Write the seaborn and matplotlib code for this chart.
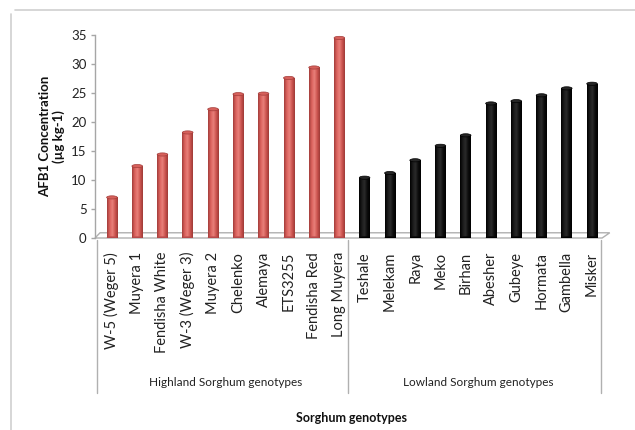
import matplotlib
matplotlib.use("Agg")
import matplotlib.pyplot as plt
import matplotlib.transforms as mtransforms
from matplotlib.colors import LinearSegmentedColormap
from matplotlib.patches import Ellipse, Polygon
from matplotlib.lines import Line2D
import numpy as np
import pandas as pd
import seaborn as sns

# data
highland = ["W-5 (Weger 5)", "Muyera 1", "Fendisha White", "W-3 (Weger 3)", "Muyera 2",
            "Chelenko", "Alemaya", "ETS3255", "Fendisha Red", "Long Muyera"]
highland_afb1 = [7.0, 12.4, 14.4, 18.2, 22.2, 24.8, 24.9, 27.6, 29.4, 34.5]
lowland = ["Teshale", "Melekam", "Raya", "Meko", "Birhan",
           "Abesher", "Gubeye", "Hormata", "Gambella", "Misker"]
lowland_afb1 = [10.4, 11.2, 13.4, 15.9, 17.7, 23.2, 23.6, 24.6, 25.8, 26.6]
groups = ["Highland Sorghum genotypes", "Lowland Sorghum genotypes"]
y_ticks = [0, 5, 10, 15, 20, 25, 30, 35]

df = pd.DataFrame({
    "genotype": highland + lowland,
    "afb1": highland_afb1 + lowland_afb1,
    "group": [groups[0]] * len(highland) + [groups[1]] * len(lowland),
})

sns.set_theme(style="white")
plt.rcParams["font.family"] = ["Lato", "DejaVu Sans"]

W, H = 635, 430
fig = plt.figure(figsize=(W / 100, H / 100), dpi=100)
ax = fig.add_axes([95 / W, 1 - 238 / H, (612 - 95) / W, (238 - 35) / H])

sns.barplot(data=df, x="genotype", y="afb1", hue="group", dodge=False,
            palette=["#c0504d", "#000000"], width=0.42, saturation=1,
            legend=False, ax=ax)

n = len(df)
xlim = (-0.67, n - 1 + 0.79)
ylim = (0, 35)

# cylinder look: gradient fill clipped to each bar and an elliptic cap
red_cmap = LinearSegmentedColormap.from_list("red", ["#a23d3a", "#db625d", "#e8807a", "#cc544f", "#9e3a37"])
blk_cmap = LinearSegmentedColormap.from_list("blk", ["#000000", "#1a1a1a", "#2a2a2a", "#0d0d0d", "#000000"])
grad = np.linspace(0, 1, 64).reshape(1, -1)
for i, p in enumerate(ax.patches):
    x0, w, h = p.get_x(), p.get_width(), p.get_height()
    is_red = df["group"].iloc[i] == groups[0]
    im = ax.imshow(grad, extent=[x0, x0 + w, 0, h], aspect="auto",
                   cmap=red_cmap if is_red else blk_cmap, zorder=2)
    im.set_clip_path(p)
    p.set_edgecolor("none")
    cap = Ellipse((x0 + w / 2, h), w, 0.55, facecolor="#d6605b" if is_red else "#262626",
                  edgecolor="#a33d3a" if is_red else "#000000", lw=0.5, zorder=3)
    ax.add_patch(cap)
    base = Ellipse((x0 + w / 2, 0), w, 0.55, facecolor="#b8494a" if is_red else "#000000",
                   edgecolor="none", zorder=2)
    ax.add_patch(base)

ax.set_xlim(*xlim)
ax.set_ylim(*ylim)

# 3D-style floor
fx0, fx1 = xlim[0], n - 1 + 0.4
floor = Polygon([(fx0, 0), (fx1, 0), (fx1 + 0.3, 0.9), (fx0 + 0.2, 0.9)], closed=True,
                facecolor="none", edgecolor="#b0b0b0", lw=1, zorder=1, clip_on=False)
ax.add_patch(floor)

for s in ["top", "right", "bottom"]:
    ax.spines[s].set_visible(False)
ax.spines["left"].set_color("#a6a6a6")
ax.spines["left"].set_linewidth(1)
ax.set_yticks(y_ticks)
ax.tick_params(axis="y", left=True, length=3, width=1, color="#a6a6a6",
               labelsize=9.5, labelcolor="#222222", pad=3)
ax.tick_params(axis="x", length=0, pad=10, labelsize=10.5, labelcolor="#222222")
for lab in ax.get_xticklabels():
    lab.set_rotation(90)
    lab.set_va("top")
    lab.set_ha("center")
ax.set_xlabel("")
ax.set_ylabel("AFB1 Concentration\n(µg kg-1)", fontsize=9.5, fontweight="bold",
              color="#111111", linespacing=1.1)
ax.yaxis.set_label_coords(-0.058, 0.5)

# group axis below the categories
trans = mtransforms.blended_transform_factory(ax.transData, ax.transAxes)
y_low = (238 - 393) / 203
n_hi = len(highland)
for xb in [-0.6, n_hi - 0.66, n - 0.64]:
    ax.add_line(Line2D([xb, xb], [-0.01, y_low], transform=trans, color="#b0b0b0",
                       lw=1, clip_on=False))
ax.text((n_hi - 1) / 2, (238 - 383) / 203, groups[0], transform=trans, ha="center",
        va="center", fontsize=8.5, color="#222222")
ax.text(n_hi + (len(lowland) - 1) / 2, (238 - 383) / 203, groups[1], transform=trans,
        ha="center", va="center", fontsize=8.5, color="#222222")

fig.text(352 / W, 1 - 418 / H, "Sorghum genotypes", ha="center", va="center",
         fontsize=9, fontweight="bold", color="#111111")

# chart frame (left and top edges visible in the reference)
fig.add_artist(Line2D([11 / W, 11 / W], [0, 1 - 14 / H], transform=fig.transFigure,
                      color="#cfcfcf", lw=1.2))
fig.add_artist(Line2D([15 / W, 1], [1 - 10 / H, 1 - 10 / H], transform=fig.transFigure,
                      color="#cfcfcf", lw=1.2))

fig.savefig("out.png", dpi=100)
